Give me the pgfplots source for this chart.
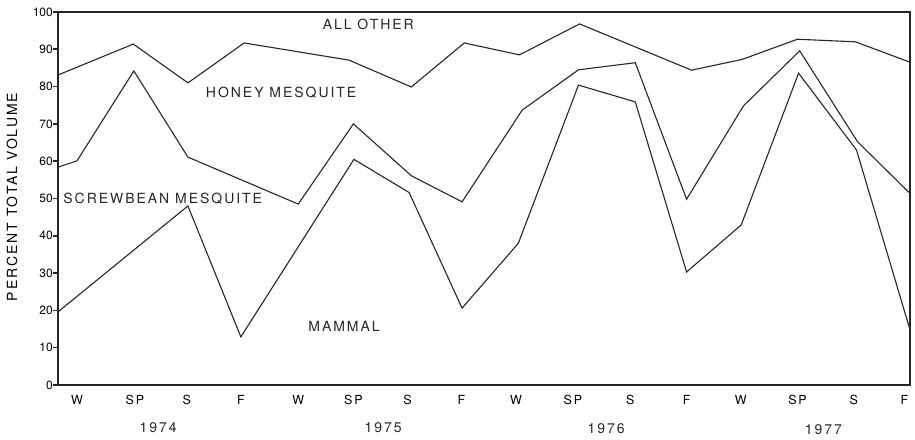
\documentclass[border=0pt]{standalone}
\usepackage{fontspec}
\setmainfont{TeX Gyre Heros}
\newfontfamily\spaced[LetterSpace=14]{TeX Gyre Heros}
\usepackage{pgfplots}
\pgfplotsset{compat=1.18}

\begin{document}
\begin{tikzpicture}
\useasboundingbox (-58bp,-55bp) rectangle (857bp,385bp);
\begin{axis}[
    scale only axis,
    width=852bp, height=373bp,
    xmin=-0.345, xmax=15.1,
    ymin=0, ymax=100,
    clip=false,
    axis line style={line width=1.6bp, black!85},
    xtick={0,1.05,1.99,2.97,4.01,5.01,5.99,6.97,7.96,8.99,10.03,11.05,12.03,13.06,14.08,15},
    xticklabels={W,SP,S,F,W,SP,S,F,W,SP,S,F,W,SP,S,F},
    major x tick style={draw=none},
    xticklabel style={inner sep=0pt, yshift=-10bp, font=\spaced\fontsize{12.5bp}{14bp}\selectfont},
    ytick={0,10,...,100},
    ytick pos=left,
    ytick align=outside,
    major tick length=5bp,
    major y tick style={line width=1.6bp, black!85},
    yticklabel style={inner sep=0pt, font=\fontsize{12bp}{14bp}\selectfont},
    /pgf/number format/assume math mode=true,
    ylabel={PERCENT TOTAL VOLUME},
    ylabel style={font=\spaced\fontsize{14bp}{16bp}\selectfont, at={(axis description cs:-0.054,0.504)}, anchor=center},
    bd/.style={black!85, line width=1.1bp, mark=none},
]
% upper boundary: all other / honey mesquite
\addplot[bd] coordinates {(-0.345,83.1) (1.02,91.4) (2.01,81.0) (3.03,91.7) (4.93,87.1) (6.06,79.9) (7.02,91.7) (8.02,88.5) (9.11,96.8) (11.14,84.4) (12.06,87.3) (13.06,92.7) (14.11,92.0) (15.09,86.6)};
% honey mesquite / screwbean mesquite
\addplot[bd] coordinates {(-0.345,58.4) (0,60.1) (1.03,84.2) (2.01,61.1) (4.01,48.5) (5.01,70.0) (6.06,56.1) (6.98,49.1) (8.07,73.7) (9.09,84.5) (10.12,86.4) (11.05,49.8) (12.08,74.8) (13.1,89.6) (14.15,65.2) (15.09,51.5)};
% screwbean mesquite / mammal
\addplot[bd] coordinates {(-0.345,19.6) (2.01,48.0) (2.97,12.9) (5.02,60.5) (6.02,51.6) (6.98,20.6) (8.0,38.0) (9.09,80.4) (10.12,75.9) (11.05,30.3) (12.04,42.9) (13.08,83.6) (14.13,63.0) (15.09,15.3)};

\begin{scope}[font=\spaced\fontsize{14bp}{16bp}\selectfont, black!85]
\node at (axis cs:5.28,96.7) {ALL OTHER};
\node at (axis cs:3.70,78.3) {HONEY MESQUITE};
\node[anchor=west, inner sep=0pt] at (axis cs:-0.25,49.9) {SCREWBEAN MESQUITE};
\node at (axis cs:4.84,15.8) {MAMMAL};
\node at (axis cs:1.47,-11.3) {1974};
\node at (axis cs:5.55,-11.3) {1975};
\node at (axis cs:9.59,-11.6) {1976};
\node at (axis cs:13.53,-12.1) {1977};
\end{scope}
\end{axis}
\end{tikzpicture}
\end{document}
